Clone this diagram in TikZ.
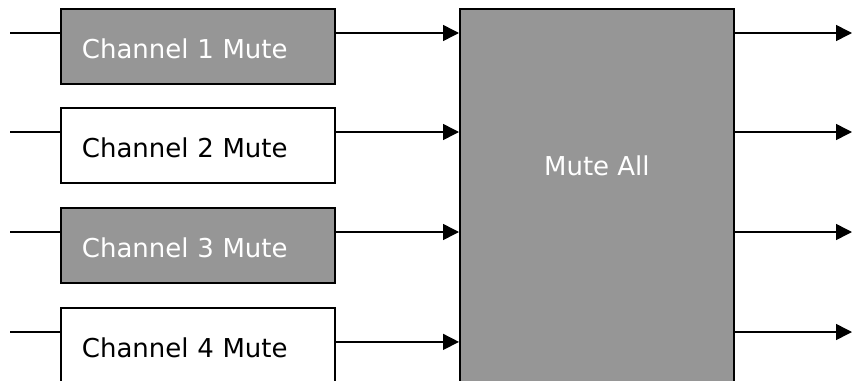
\documentclass[tikz,border=0pt]{standalone}
\usepackage{fontspec}
\setmainfont{DejaVu Sans}
\usepackage{tikz}
\usetikzlibrary{arrows.meta, positioning, calc}
\usepackage{xcolor}
\definecolor{boxgray}{HTML}{969696}

\tikzset{
  chbox/.style={draw, line width=1.8pt, anchor=north west, inner xsep=21pt, inner ysep=0pt,
    text width=232pt, align=left, minimum height=75pt, text height=40pt, text depth=15pt,
    font=\fontsize{26}{30}\selectfont},
  chon/.style={chbox, fill=boxgray, text=white},
  choff/.style={chbox, fill=white, text=black},
  wire/.style={line width=1.5pt},
  sig/.style={line width=1.5pt, -{Triangle[length=16pt, width=16pt]}}
}

\begin{document}
\begin{tikzpicture}[x=1pt, y=-1pt]
        \useasboundingbox (0,0) rectangle (853,380);
        \clip (0,0) rectangle (853,380);
        % channel blocks
        \node[chon]  (ch1) at (60,8)   {Channel 1 Mute};
        \node[choff] (ch2) at (60,107) {Channel 2 Mute};
        \node[chon]  (ch3) at (60,207) {Channel 3 Mute};
        \node[choff] (ch4) at (60,307) {Channel 4 Mute};
        % master block
        \node[draw, line width=1.8pt, fill=boxgray, text=white, anchor=north west,
          minimum width=274pt, minimum height=380pt, inner sep=0pt,
          text height=20pt, text depth=66pt, font=\fontsize{26}{30}\selectfont]
          (muteall) at (459,8) {Mute All};
        % input ends
        \coordinate (in1) at (10,33);
        \coordinate (in2) at (10,132);
        \coordinate (in3) at (10,232);
        \coordinate (in4) at (10,332);
        \draw[wire] (in1) -- (in1 -| ch1.west);
        \draw[wire] (in2) -- (in2 -| ch2.west);
        \draw[wire] (in3) -- (in3 -| ch3.west);
        \draw[wire] (in4) -- (in4 -| ch4.west);
        % channel -> master
        \coordinate (m1) at (ch1.east |- in1);
        \coordinate (m2) at (ch2.east |- in2);
        \coordinate (m3) at (ch3.east |- in3);
        \coordinate (m4) at ($(ch4.east)+(0,-3.5)$);
        \draw[sig] (m1) -- (m1 -| muteall.west);
        \draw[sig] (m2) -- (m2 -| muteall.west);
        \draw[sig] (m3) -- (m3 -| muteall.west);
        \draw[sig] (m4) -- (m4 -| muteall.west);
        % master outputs
        \coordinate (out1) at (852,33);
        \coordinate (out2) at (852,132);
        \coordinate (out3) at (852,232);
        \coordinate (out4) at (852,332);
        \draw[sig] (out1 -| muteall.east) -- (out1);
        \draw[sig] (out2 -| muteall.east) -- (out2);
        \draw[sig] (out3 -| muteall.east) -- (out3);
        \draw[sig] (out4 -| muteall.east) -- (out4);
      \end{tikzpicture}
\end{document}
